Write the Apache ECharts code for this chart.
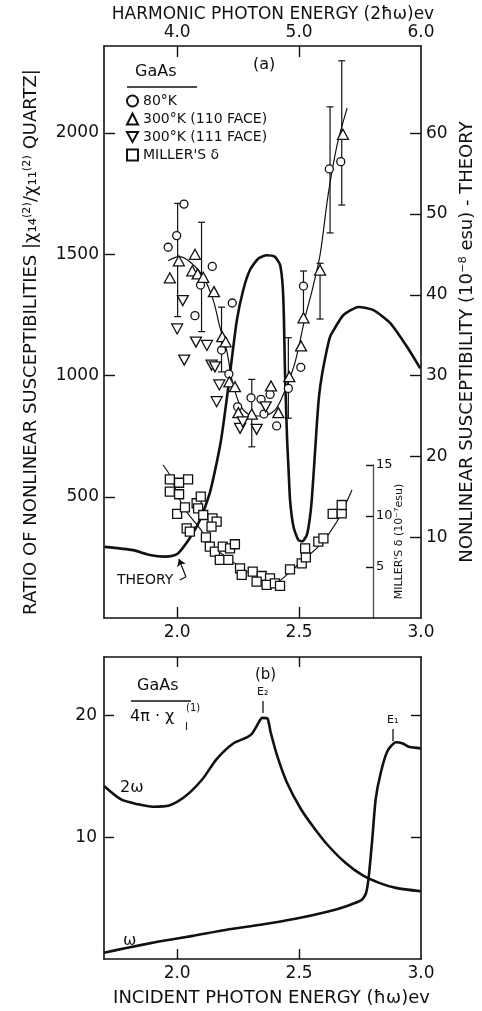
<!DOCTYPE html>
<html>
<head>
<meta charset="UTF-8">
<title>GaAs nonlinear susceptibility</title>
<script src="https://cdn.jsdelivr.net/npm/echarts@6/dist/echarts.min.js"></script>
<style>
  html, body { margin: 0; padding: 0; background: #fff; }
  #chart { width: 482px; height: 1011px; }
</style>
</head>
<body>
<div id="chart"></div>
<script>
// ---------- data (photon energy in eV) ----------
// (a) theory curve, right axis (10^-8 esu)
var theoryCurve = [
  [1.703, 8.8], [1.819, 8.4], [1.888, 7.8], [1.95, 7.6], [1.982, 7.7], [2.004, 8.0],
  [2.052, 9.9], [2.093, 12.1], [2.134, 15.5], [2.162, 19.2], [2.182, 22.4], [2.21, 28.6],
  [2.244, 36.7], [2.271, 40.6], [2.299, 43.1], [2.333, 44.5], [2.367, 44.9], [2.401, 44.7],
  [2.422, 43.7], [2.433, 41.0], [2.438, 36.9], [2.442, 30.7], [2.451, 22.0], [2.457, 18.3],
  [2.463, 14.6], [2.477, 11.3], [2.497, 9.65], [2.514, 9.5], [2.532, 10.3], [2.543, 12.1],
  [2.552, 14.6], [2.566, 20.8], [2.574, 24.5], [2.582, 27.5], [2.594, 30.1], [2.614, 33.2],
  [2.627, 34.8], [2.641, 35.6], [2.682, 37.5], [2.744, 38.5], [2.805, 38.1], [2.874, 36.5],
  [2.942, 33.6], [2.997, 30.9]
];
// (a) measured ratios, left axis
var circle80K = [
  [2.028, 1707], [1.998, 1577], [1.963, 1529], [2.144, 1450], [2.096, 1373], [2.073, 1247],
  [2.226, 1299], [2.182, 1105], [2.212, 1006], [2.248, 871], [2.303, 908], [2.344, 902],
  [2.381, 922], [2.356, 841], [2.408, 792], [2.456, 947], [2.507, 1034], [2.518, 1369],
  [2.624, 1852], [2.671, 1882]
];
var tri110 = [
  [2.007, 1473], [2.073, 1500], [2.062, 1432], [2.084, 1419], [2.107, 1405], [1.970, 1403],
  [2.151, 1346], [2.185, 1160], [2.199, 1139], [2.214, 974], [2.237, 954], [2.251, 847],
  [2.306, 841], [2.385, 957], [2.415, 847], [2.460, 995], [2.508, 1122], [2.518, 1238],
  [2.586, 1435], [2.680, 1995]
];
var tri111 = [
  [2.023, 1309], [2.000, 1192], [2.077, 1138], [2.122, 1124], [2.029, 1064], [2.141, 1043],
  [2.155, 1036], [2.173, 961], [2.162, 892], [2.258, 782], [2.326, 778], [2.269, 809],
  [2.363, 871]
];
// energy, low, high
var errorBars = [
  [2.002, 1243, 1710], [2.100, 1181, 1632], [2.182, 1015, 1282], [2.306, 706, 984],
  [2.456, 824, 1156], [2.518, 1237, 1431], [2.586, 1233, 1463], [2.627, 1588, 2108],
  [2.675, 1703, 2298]
];
var triFit = [
  [1.963, 1473], [2.007, 1490], [2.052, 1469], [2.107, 1407], [2.148, 1311], [2.175, 1201],
  [2.203, 1105], [2.225, 981], [2.258, 878], [2.299, 837], [2.348, 833], [2.402, 858],
  [2.443, 940], [2.484, 1056], [2.525, 1241], [2.554, 1353], [2.586, 1497], [2.619, 1744],
  [2.656, 1951], [2.697, 2103]
];
// (a) Miller's delta (10^-7 esu)
var millerSquares = [
  [1.970, 13.6], [2.008, 13.26], [2.045, 13.6], [1.970, 12.38], [2.008, 12.13], [2.000, 10.2],
  [2.032, 10.85], [2.080, 11.25], [2.097, 11.89], [2.086, 10.75], [2.107, 10.1], [2.039, 8.79],
  [2.052, 8.46], [2.145, 9.77], [2.162, 9.44], [2.141, 8.95], [2.118, 7.91], [2.134, 6.99],
  [2.155, 6.5], [2.187, 6.99], [2.217, 6.83], [2.237, 7.23], [2.175, 5.69], [2.210, 5.69],
  [2.258, 4.87], [2.265, 4.22], [2.310, 4.54], [2.347, 4.12], [2.326, 3.56], [2.381, 3.89],
  [2.367, 3.24], [2.401, 3.40], [2.422, 3.14], [2.463, 4.77], [2.511, 5.36], [2.528, 5.95],
  [2.525, 6.83], [2.579, 7.48], [2.600, 7.81], [2.638, 10.2], [2.675, 10.26], [2.675, 11.08]
];
var millerFit = [
  [1.942, 15.0], [1.970, 14.0], [2.025, 10.9], [2.093, 8.79], [2.148, 6.99], [2.217, 5.69],
  [2.299, 4.38], [2.408, 3.56], [2.463, 4.54], [2.518, 5.69], [2.586, 7.16], [2.655, 9.44],
  [2.717, 12.55]
];
// (b) 4*pi*chi_I(1)
var eps2w = [
  [1.70, 14.2], [1.77, 13.1], [1.84, 12.7], [1.90, 12.5], [1.967, 12.6], [2.036, 13.4],
  [2.105, 14.8], [2.161, 16.4], [2.23, 17.7], [2.286, 18.2], [2.307, 18.5], [2.328, 19.2],
  [2.349, 19.8], [2.37, 19.75], [2.383, 18.65], [2.41, 16.7], [2.45, 14.5], [2.508, 12.3],
  [2.564, 10.7], [2.62, 9.3], [2.69, 7.9], [2.758, 6.9], [2.828, 6.25], [2.897, 5.84],
  [3.0, 5.56]
];
var eps1w = [
  [1.70, 0.52], [1.786, 0.88], [1.925, 1.43], [2.064, 1.9], [2.203, 2.4], [2.342, 2.81],
  [2.48, 3.28], [2.62, 3.9], [2.70, 4.38], [2.758, 4.88], [2.775, 5.43], [2.786, 6.8],
  [2.80, 9.8], [2.814, 13.1], [2.835, 15.3], [2.863, 17.1], [2.897, 17.8], [2.925, 17.7],
  [2.953, 17.4], [3.0, 17.3]
];
// tick values
var energyTicks = [2.0, 2.5];
var energyLabels = [2.0, 2.5, 3.0];
var harmonicTicks = [4.0, 5.0];
var harmonicLabels = [4.0, 5.0, 6.0];
var ratioTicks = [500, 1000, 1500, 2000];
var theoryTicks = [10, 20, 30, 40, 50, 60];
var millerTicks = [5, 10, 15];
var chiTicks = [10, 20];

var FONT = 'DejaVu Sans';
var BLACK = '#111';
var downTri = 'path://M0,0 L10,0 L5,9 Z';

function axisBase(o) {
  var a = {
    type: 'value',
    splitLine: { show: false },
    axisLine: { show: true, onZero: false, lineStyle: { color: BLACK, width: 1.6 } },
    axisTick: { show: true, inside: true, length: 11, lineStyle: { color: BLACK, width: 1.4 } },
    axisLabel: { color: BLACK, fontFamily: FONT, fontSize: 17, formatter: function (v) { return String(v); } },
    nameTextStyle: { color: BLACK, fontFamily: FONT, fontSize: 18 }
  };
  for (var k in o) {
    if (typeof o[k] === 'object' && a[k] && !Array.isArray(o[k])) {
      for (var j in o[k]) a[k][j] = o[k][j];
    } else {
      a[k] = o[k];
    }
  }
  return a;
}
function fmt1(v) { return v.toFixed(1); }

var chart = echarts.init(document.getElementById('chart'));

var option = {
  animation: false,
  backgroundColor: '#fff',
  grid: [
    { left: 104, top: 46, width: 317, height: 572, outerBoundsMode: 'none', containLabel: false },
    { left: 104, top: 465, width: 269, height: 153, outerBoundsMode: 'none', containLabel: false },
    { left: 104, top: 657, width: 317, height: 302, outerBoundsMode: 'none', containLabel: false }
  ],
  xAxis: [
    axisBase({ gridIndex: 0, min: 1.7, max: 3.0, position: 'bottom',
      axisTick: { customValues: energyTicks },
      axisLabel: { customValues: energyLabels, formatter: fmt1, margin: 6 } }),
    axisBase({ gridIndex: 0, min: 3.4, max: 6.0, position: 'top',
      axisTick: { customValues: harmonicTicks },
      axisLabel: { customValues: harmonicLabels, formatter: fmt1, margin: 5 },
      name: 'HARMONIC PHOTON ENERGY (2ħω)ev', nameLocation: 'middle', nameGap: 23,
      nameMoveOverlap: false,
      nameTextStyle: { fontSize: 17, padding: [0, 0, 0, 21] } }),
    { type: 'value', gridIndex: 1, min: 1.7, max: 1.7 + 269 / 243.8, show: false },
    axisBase({ gridIndex: 2, min: 1.7, max: 3.0, position: 'bottom',
      axisTick: { customValues: energyTicks, length: 10 },
      axisLabel: { customValues: energyLabels, formatter: fmt1, margin: 6 },
      name: 'INCIDENT PHOTON ENERGY (ħω)ev', nameLocation: 'middle', nameGap: 30,
      nameTextStyle: { fontSize: 18, padding: [0, 0, 0, 18] } }),
    axisBase({ gridIndex: 2, min: 1.7, max: 3.0, position: 'top',
      axisTick: { customValues: energyTicks, length: 10 },
      axisLabel: { show: false } })
  ],
  yAxis: [
    axisBase({ gridIndex: 0, min: 0, max: 2359, position: 'left',
      axisTick: { customValues: ratioTicks },
      axisLabel: { customValues: ratioTicks, margin: 5 },
      name: 'RATIO OF NONLINEAR SUSCEPTIBILITIES |χ₁₄⁽²⁾/χ₁₁⁽²⁾ QUARTZ|',
      nameLocation: 'middle', nameGap: 64, nameRotate: 90,
      nameTextStyle: { padding: [0, 20, 0, 0] } }),
    axisBase({ gridIndex: 0, min: 0, max: 70.8, position: 'right',
      axisTick: { customValues: theoryTicks },
      axisLabel: { customValues: theoryTicks, margin: 5 },
      name: 'NONLINEAR SUSCEPTIBILITY (10⁻⁸ esu) - THEORY',
      nameLocation: 'middle', nameGap: 22, nameRotate: 90,
      nameTextStyle: { padding: [0, 20, 0, 0] } }),
    axisBase({ gridIndex: 1, min: 0, max: 15, position: 'right',
      axisLine: { lineStyle: { width: 1.4 } },
      axisTick: { customValues: millerTicks, length: 7 },
      axisLabel: { customValues: millerTicks, margin: 3, fontSize: 13 },
      name: "MILLER'S δ (10⁻⁷esu)", nameLocation: 'middle', nameGap: 21, nameRotate: 90,
      nameMoveOverlap: false,
      nameTextStyle: { fontSize: 11 } }),
    axisBase({ gridIndex: 2, min: 0, max: 24.8, position: 'left',
      axisTick: { customValues: chiTicks, length: 10 },
      axisLabel: { customValues: chiTicks, margin: 7 } }),
    axisBase({ gridIndex: 2, min: 0, max: 24.8, position: 'right',
      axisTick: { customValues: chiTicks, length: 10 },
      axisLabel: { show: false } })
  ],
  legend: {
    orient: 'vertical', left: 121, top: 89, itemWidth: 11, itemHeight: 11, itemGap: 4,
    selectedMode: false,
    textStyle: { fontFamily: FONT, fontSize: 14, color: BLACK },
    data: [
      { name: '80°K', icon: 'circle' },
      { name: '300°K (110 FACE)', icon: 'triangle' },
      { name: '300°K (111 FACE)', icon: downTri },
      { name: "MILLER'S δ", icon: 'rect' }
    ]
  },
  series: [
    {
      name: 'theory', type: 'line', xAxisIndex: 0, yAxisIndex: 1, data: theoryCurve,
      smooth: 0.2, showSymbol: false, symbol: 'none', z: 2,
      lineStyle: { color: BLACK, width: 2.6 },
      markLine: {
        silent: true, symbol: ['none', 'none'], symbolSize: 7,
        lineStyle: { color: BLACK, width: 1.2, type: 'solid' }, label: { show: false },
        data: [
          [{ coord: [2.011, 4.7] }, { coord: [2.036, 5.1] }],
          [{ coord: [2.036, 5.1] }, { coord: [2.007, 7.3], symbol: 'arrow' }]
        ]
      }
    },
    {
      name: 'fit110', type: 'line', xAxisIndex: 0, yAxisIndex: 0, data: triFit,
      smooth: 0.3, symbol: 'none', z: 2, lineStyle: { color: BLACK, width: 1.2 }
    },
    {
      name: 'errors', type: 'custom', xAxisIndex: 0, yAxisIndex: 0, data: errorBars, z: 3,
      encode: { x: 0, y: [1, 2] },
      renderItem: function (params, api) {
        var lo = api.coord([api.value(0), api.value(1)]);
        var hi = api.coord([api.value(0), api.value(2)]);
        var st = { stroke: BLACK, lineWidth: 1.2 };
        return { type: 'group', children: [
          { type: 'line', shape: { x1: lo[0], y1: lo[1], x2: hi[0], y2: hi[1] }, style: st },
          { type: 'line', shape: { x1: lo[0] - 3.5, y1: lo[1], x2: lo[0] + 3.5, y2: lo[1] }, style: st },
          { type: 'line', shape: { x1: hi[0] - 3.5, y1: hi[1], x2: hi[0] + 3.5, y2: hi[1] }, style: st }
        ] };
      }
    },
    {
      name: '80°K', type: 'scatter', xAxisIndex: 0, yAxisIndex: 0, data: circle80K,
      symbol: 'circle', symbolSize: 8, z: 5,
      itemStyle: { color: '#fff', borderColor: BLACK, borderWidth: 1.3, opacity: 1 }
    },
    {
      name: '300°K (110 FACE)', type: 'scatter', xAxisIndex: 0, yAxisIndex: 0, data: tri110,
      symbol: 'triangle', symbolSize: [11, 10], z: 5,
      itemStyle: { color: '#fff', borderColor: BLACK, borderWidth: 1.3, opacity: 1 }
    },
    {
      name: '300°K (111 FACE)', type: 'scatter', xAxisIndex: 0, yAxisIndex: 0, data: tri111,
      symbol: downTri, symbolSize: [11, 10], z: 5,
      itemStyle: { color: '#fff', borderColor: BLACK, borderWidth: 1.3, opacity: 1 }
    },
    {
      name: 'millerFit', type: 'line', xAxisIndex: 2, yAxisIndex: 2, data: millerFit,
      smooth: 0.3, symbol: 'none', z: 2, clip: false, lineStyle: { color: BLACK, width: 1.2 }
    },
    {
      name: "MILLER'S δ", type: 'scatter', xAxisIndex: 2, yAxisIndex: 2, data: millerSquares,
      symbol: 'rect', symbolSize: 9, z: 5, clip: false,
      itemStyle: { color: '#fff', borderColor: BLACK, borderWidth: 1.3, opacity: 1 }
    },
    {
      name: '2ω', type: 'line', xAxisIndex: 3, yAxisIndex: 3, data: eps2w,
      smooth: 0.25, symbol: 'none', lineStyle: { color: BLACK, width: 2.6 }
    },
    {
      name: 'ω', type: 'line', xAxisIndex: 3, yAxisIndex: 3, data: eps1w,
      smooth: 0.2, symbol: 'none', lineStyle: { color: BLACK, width: 2.6 }
    }
  ],
  graphic: [
    { type: 'text', left: 135, top: 64, style: { text: 'GaAs', font: '16px "DejaVu Sans"', fill: BLACK } },
    { type: 'line', shape: { x1: 127, y1: 87, x2: 197, y2: 87 }, style: { stroke: BLACK, lineWidth: 1.3 } },
    { type: 'text', left: 253, top: 57, style: { text: '(a)', font: '16px "DejaVu Sans"', fill: BLACK } },
    { type: 'text', left: 117, top: 573, style: { text: 'THEORY', font: '14px "DejaVu Sans"', fill: BLACK } },
    { type: 'text', left: 137, top: 678, style: { text: 'GaAs', font: '16px "DejaVu Sans"', fill: BLACK } },
    { type: 'line', shape: { x1: 131, y1: 701, x2: 191, y2: 701 }, style: { stroke: BLACK, lineWidth: 1.3 } },
    { type: 'text', left: 130, top: 709, style: { text: '4π · χ', font: '16px "DejaVu Sans"', fill: BLACK } },
    { type: 'text', left: 186, top: 703, style: { text: '(1)', font: '10px "DejaVu Sans"', fill: BLACK } },
    { type: 'text', left: 185, top: 722, style: { text: 'I', font: '10px "DejaVu Sans"', fill: BLACK } },
    { type: 'text', left: 255, top: 668, style: { text: '(b)', font: '15px "DejaVu Sans"', fill: BLACK } },
    { type: 'text', left: 257, top: 687, style: { text: 'E₂', font: '11px "DejaVu Sans"', fill: BLACK } },
    { type: 'line', shape: { x1: 263, y1: 701, x2: 263, y2: 713 }, style: { stroke: BLACK, lineWidth: 1.3 } },
    { type: 'text', left: 387, top: 715, style: { text: 'E₁', font: '11px "DejaVu Sans"', fill: BLACK } },
    { type: 'line', shape: { x1: 393, y1: 729, x2: 393, y2: 741 }, style: { stroke: BLACK, lineWidth: 1.3 } },
    { type: 'text', left: 120, top: 780, style: { text: '2ω', font: '16px "DejaVu Sans"', fill: BLACK } },
    { type: 'text', left: 123, top: 933, style: { text: 'ω', font: '16px "DejaVu Sans"', fill: BLACK } }
  ]
};

chart.setOption(option);
</script>
</body>
</html>
